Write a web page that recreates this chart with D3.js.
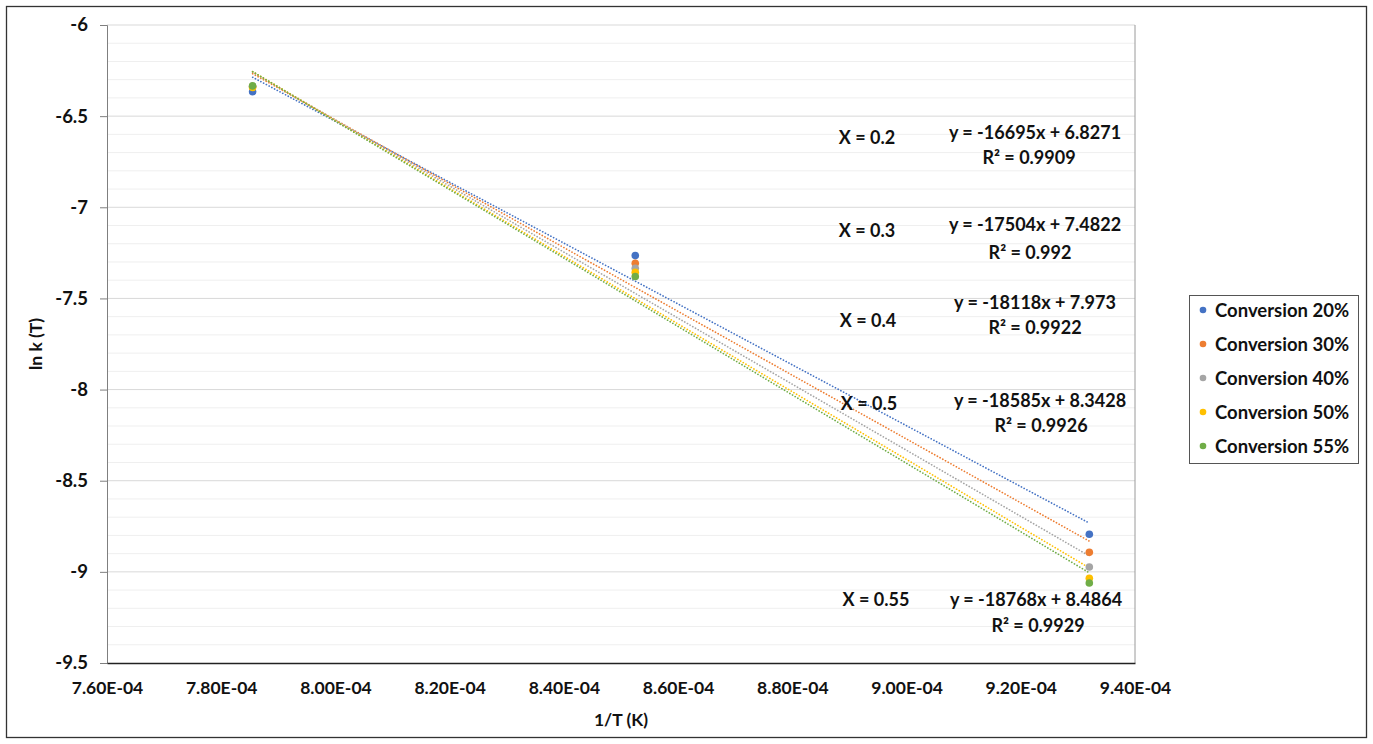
<!DOCTYPE html>
<html><head><meta charset="utf-8">
<script src="https://cdn.jsdelivr.net/npm/d3@7"></script>
<style>body{margin:0;background:#fff;} text{font-family:Lato,"Open Sans",sans-serif;font-weight:bold;fill:#111;}</style>
</head><body>
<svg id="c" width="1373" height="744"></svg>
<script>
// Data
const invT = [7.855e-4, 8.525e-4, 9.320e-4];
const seriesNames = ["Conversion 20%","Conversion 30%","Conversion 40%","Conversion 50%","Conversion 55%"];
const conv20 = [-6.366, -7.265, -8.794];
const conv30 = [-6.338, -7.307, -8.893];
const conv40 = [-6.336, -7.335, -8.973];
const conv50 = [-6.343, -7.357, -9.035];
const conv55 = [-6.334, -7.380, -9.061];
const slopes = [-16695, -17504, -18118, -18585, -18768];
const intercepts = [6.8271, 7.4822, 7.973, 8.3428, 8.4864];
const xLabels = ["X = 0.2","X = 0.3","X = 0.4","X = 0.5","X = 0.55"];
const eqLabels = ["y = -16695x + 6.8271","y = -17504x + 7.4822","y = -18118x + 7.973","y = -18585x + 8.3428","y = -18768x + 8.4864"];
const r2Labels = ["R² = 0.9909","R² = 0.992","R² = 0.9922","R² = 0.9926","R² = 0.9929"];
const xTicks = [7.6e-4,7.8e-4,8.0e-4,8.2e-4,8.4e-4,8.6e-4,8.8e-4,9.0e-4,9.2e-4,9.4e-4];
const yTicks = [-6,-6.5,-7,-7.5,-8,-8.5,-9,-9.5];
const colors = ["#4472C4","#ED7D31","#A5A5A5","#FFC000","#70AD47"];
const allSeries = [conv20, conv30, conv40, conv50, conv55];

// Layout
const svg = d3.select("#c");
const L = 107, R = 1135, T = 25, B = 663;
const x = d3.scaleLinear().domain([7.6e-4, 9.4e-4]).range([L, R]);
const y = d3.scaleLinear().domain([-9.5, -6]).range([B, T]);

svg.append("rect").attr("x",6.5).attr("y",6.5).attr("width",1360).attr("height",731)
  .attr("fill","#fff").attr("stroke","#333").attr("stroke-width",1.3);

// minor gridlines
const minor = d3.range(-9.4, -6.0, 0.1).map(v => +v.toFixed(1)).filter(v => Math.abs(v*2 - Math.round(v*2)) > 1e-6);
svg.append("g").selectAll("line").data(minor).join("line")
  .attr("x1",L).attr("x2",R).attr("y1",d=>y(d)).attr("y2",d=>y(d))
  .attr("stroke","#efefef").attr("stroke-width",1);
// major gridlines
svg.append("g").selectAll("line").data(yTicks.filter(v=>v>-9.5)).join("line")
  .attr("x1",L).attr("x2",R).attr("y1",d=>y(d)).attr("y2",d=>y(d))
  .attr("stroke","#d9d9d9").attr("stroke-width",1);

// right border of plot area
svg.append("line").attr("x1",R).attr("x2",R).attr("y1",T).attr("y2",B).attr("stroke","#9a9a9a").attr("stroke-width",1);

// y axis
const fmtY = d => String(d);
const yAxis = d3.axisLeft(y).tickValues(yTicks).tickFormat(fmtY).tickSize(7).tickPadding(12);
const gy = svg.append("g").attr("transform",`translate(${L},0)`).call(yAxis);
gy.select(".domain").attr("stroke","#7f7f7f");
gy.selectAll(".tick line").attr("stroke","#7f7f7f");
gy.selectAll("text").style("font-size","18.5px").attr("fill","#111");

// x axis
const fmtX = d => { const s = d.toExponential(2).toUpperCase(); return s.replace(/E([+-])(\d)$/, "E$10$2"); };
const xAxis = d3.axisBottom(x).tickValues(xTicks).tickFormat(fmtX).tickSize(0).tickPadding(19);
const gx = svg.append("g").attr("transform",`translate(0,${B})`).call(xAxis);
gx.select(".domain").attr("stroke","#222").attr("stroke-width",1.3);
gx.selectAll("text").style("font-size","17.5px").attr("fill","#111");

// trendlines
slopes.forEach((m,i)=>{
  const x0 = d3.min(invT), x1 = d3.max(invT);
  svg.append("line").attr("x1",x(x0)).attr("y1",y(m*x0+intercepts[i]))
    .attr("x2",x(x1)).attr("y2",y(m*x1+intercepts[i]))
    .attr("stroke",colors[i]).attr("stroke-width",1.7)
    .attr("stroke-dasharray","0.1,3").attr("stroke-linecap","round");
});

// points
allSeries.forEach((vals,i)=>{
  svg.append("g").selectAll("circle").data(vals).join("circle")
    .attr("cx",(d,j)=>x(invT[j])).attr("cy",d=>y(d)).attr("r",3.8).attr("fill",colors[i]);
});

// annotations
const annXY = [[867,137],[867,230],[868,320],[869,403],[876,599]];
const eqXY = [[1035,132],[1035,224],[1035,302],[1040,400],[1036,599]];
const r2XY = [[1029,157],[1030,252],[1035,327],[1041,425],[1038,625]];
xLabels.forEach((t,i)=>{
  svg.append("text").attr("x",annXY[i][0]).attr("y",annXY[i][1]).attr("text-anchor","middle")
    .attr("dominant-baseline","central").style("font-size","18px").text(t);
  svg.append("text").attr("x",eqXY[i][0]).attr("y",eqXY[i][1]).attr("text-anchor","middle")
    .attr("dominant-baseline","central").style("font-size","18px").text(eqLabels[i]);
  svg.append("text").attr("x",r2XY[i][0]).attr("y",r2XY[i][1]).attr("text-anchor","middle")
    .attr("dominant-baseline","central").style("font-size","18px").text(r2Labels[i]);
});

// axis titles
svg.append("text").attr("x",(L+R)/2).attr("y",719).attr("text-anchor","middle")
  .attr("dominant-baseline","central").style("font-size","17.5px").text("1/T (K)");
svg.append("text").attr("transform",`translate(35,${(T+B)/2}) rotate(-90)`).attr("text-anchor","middle")
  .attr("dominant-baseline","central").style("font-size","17.5px").text("ln k (T)");

// legend
const lg = svg.append("g");
lg.append("rect").attr("x",1189.5).attr("y",295.5).attr("width",169).attr("height",168)
  .attr("fill","#fff").attr("stroke","#555").attr("stroke-width",1);
seriesNames.forEach((n,i)=>{
  const cy = 310 + i*34;
  lg.append("circle").attr("cx",1203).attr("cy",cy).attr("r",3.3).attr("fill",colors[i]);
  lg.append("text").attr("x",1215).attr("y",cy).attr("dominant-baseline","central")
    .style("font-size","18.5px").text(n);
});
</script>
</body></html>
